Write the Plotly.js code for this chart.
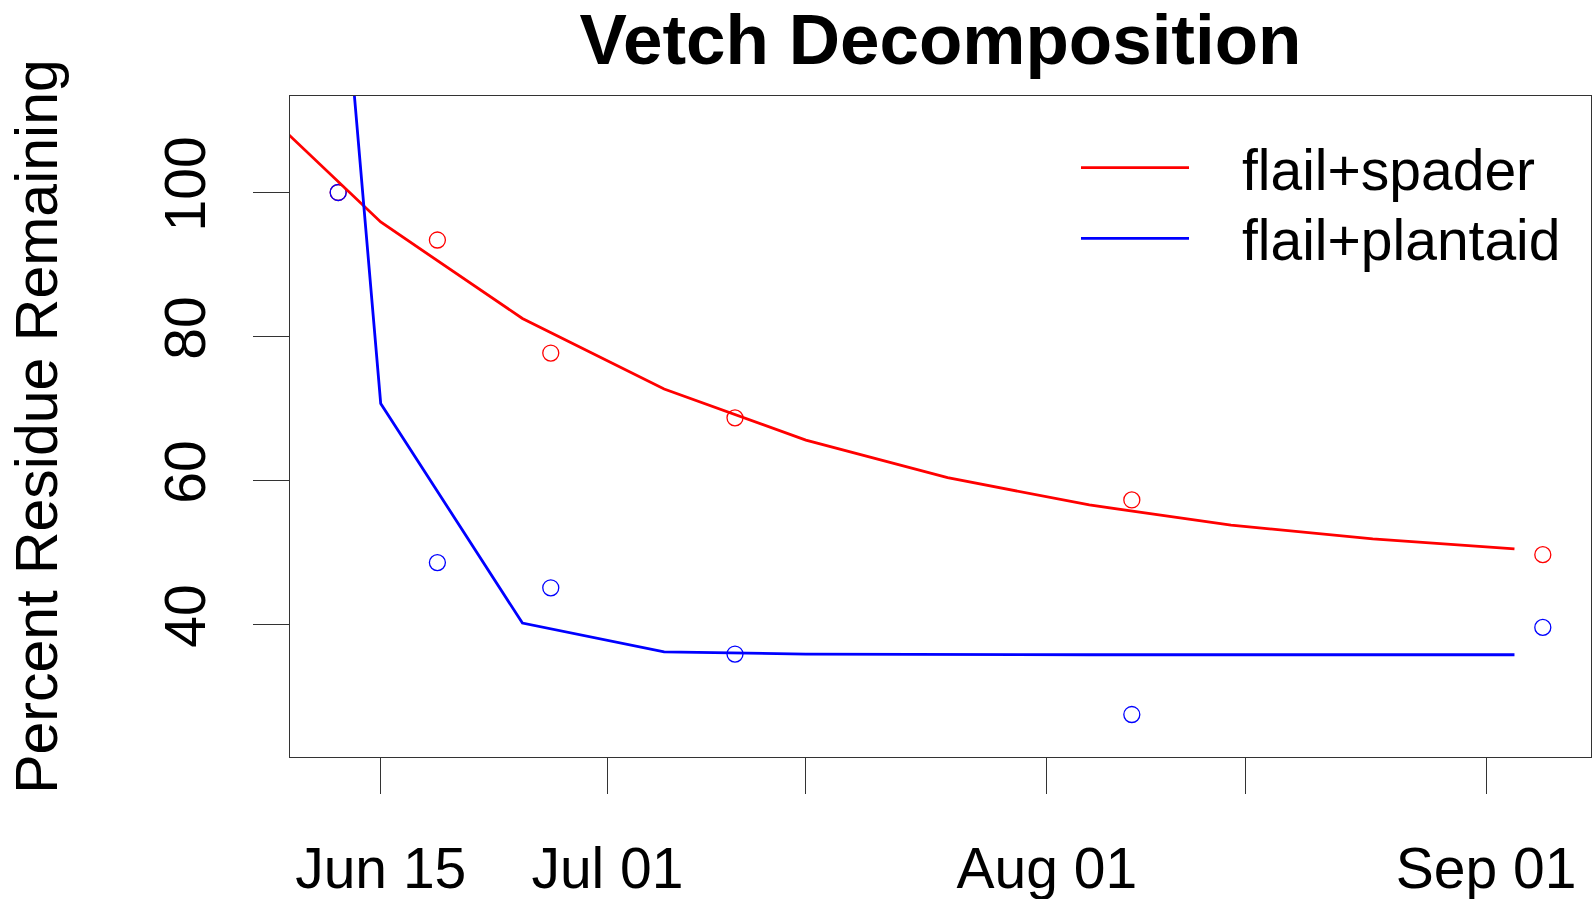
<!DOCTYPE html>
<html>
<head>
<meta charset="utf-8">
<script src="https://cdn.plot.ly/plotly-3.0.1.min.js"></script>
<style>html,body{margin:0;padding:0;background:#fff;}#chart{width:1593px;height:899px;}</style>
</head>
<body>
<div id="chart"></div>
<script>
// Observed sampling dates and measured percent residue remaining
const obsDates = ['2015-06-12','2015-06-19','2015-06-27','2015-07-10','2015-08-07','2015-09-05'];
const spaderObs = [100, 93.4, 77.7, 68.7, 57.3, 49.7];
const plantaidObs = [100, 48.6, 45.1, 35.9, 27.5, 39.6];

// Fitted decay curves
const fitDates = ['2015-06-05','2015-06-15','2015-06-25','2015-07-05','2015-07-15','2015-07-25','2015-08-04','2015-08-14','2015-08-24','2015-09-03'];
const spaderFit = [114.6, 95.9, 82.5, 72.7, 65.6, 60.4, 56.6, 53.8, 51.9, 50.5];
const plantaidFit = [301, 70.7, 40.2, 36.2, 35.9, 35.8, 35.8, 35.8, 35.8, 35.8];

// Tick labels
const xTickVals = ['2015-06-15','2015-07-01','2015-07-15','2015-08-01','2015-08-15','2015-09-01'];
const xTickText = ['Jun 15','Jul 01','','Aug 01','','Sep 01'];
const yTickVals = [40, 60, 80, 100];

const seriesNames = ['flail+spader', 'flail+plantaid'];
const seriesColors = ['#FF0000', '#0000FF'];

const FONT = 'Liberation Sans, Arial, sans-serif';

const traces = [
  {x: obsDates, y: spaderObs, mode: 'markers', name: seriesNames[0], showlegend: false,
   marker: {symbol: 'circle-open', size: 16, color: seriesColors[0], line: {width: 1.3, color: seriesColors[0]}}},
  {x: obsDates, y: plantaidObs, mode: 'markers', name: seriesNames[1], showlegend: false,
   marker: {symbol: 'circle-open', size: 16, color: seriesColors[1], line: {width: 1.3, color: seriesColors[1]}}},
  {x: fitDates, y: spaderFit, mode: 'lines', name: seriesNames[0], showlegend: false,
   line: {color: seriesColors[0], width: 2.8}},
  {x: fitDates, y: plantaidFit, mode: 'lines', name: seriesNames[1], showlegend: false,
   line: {color: seriesColors[1], width: 2.8}}
];

const L = 290, R = 2, T = 96, B = 142, W = 1593, H = 899;
const pw = W - L - R, ph = H - T - B;
function px(xp){ return (xp - L) / pw; }
function py(yp){ return (T + ph - yp) / ph; }

const legendY = [167.7, 238.3];
const shapes = [];
const annotations = [];
for (let i = 0; i < seriesNames.length; i++) {
  shapes.push({type: 'line', xref: 'paper', yref: 'paper',
    x0: px(1081), x1: px(1189), y0: py(legendY[i]), y1: py(legendY[i]),
    line: {color: seriesColors[i], width: 2.8}});
  annotations.push({xref: 'paper', yref: 'paper', x: px(1240), y: py(legendY[i] + 2),
    xanchor: 'left', yanchor: 'middle', showarrow: false, text: seriesNames[i],
    font: {family: FONT, size: 57, color: '#000'}});
}

const layout = {
  width: W, height: H,
  margin: {l: L, r: R, t: T, b: B, pad: 0},
  paper_bgcolor: '#fff', plot_bgcolor: '#fff',
  showlegend: false,
  font: {family: FONT, color: '#000'},
  title: {text: '<b>Vetch Decomposition</b>', font: {family: FONT, size: 71, color: '#000'},
          x: 0.5, xref: 'paper', xanchor: 'center', y: 1 - 39/899, yref: 'container', yanchor: 'middle'},
  xaxis: {
    type: 'date',
    range: ['2015-06-08 14:24', '2015-09-08 09:36'],
    tickmode: 'array', tickvals: xTickVals, ticktext: xTickText,
    ticks: 'outside', ticklen: 36, tickwidth: 1.2, tickcolor: '#333',
    ticklabelstandoff: 25,
    tickfont: {family: FONT, size: 57, color: '#000'},
    showgrid: false, zeroline: false,
    showline: true, mirror: true, linecolor: '#333', linewidth: 1.2
  },
  yaxis: {
    range: [21.6, 113.4],
    tickmode: 'array', tickvals: yTickVals,
    ticks: 'outside', ticklen: 36, tickwidth: 1.2, tickcolor: '#333',
    tickangle: -90,
    ticklabelstandoff: 25,
    tickfont: {family: FONT, size: 57, color: '#000'},
    showgrid: false, zeroline: false,
    showline: true, mirror: true, linecolor: '#333', linewidth: 1.2,
    title: {text: 'Percent Residue Remaining', font: {family: FONT, size: 59, color: '#000'}, standoff: 76}
  },
  shapes: shapes,
  annotations: annotations
};

Plotly.newPlot('chart', traces, layout, {displayModeBar: false, staticPlot: true});
</script>
</body>
</html>
